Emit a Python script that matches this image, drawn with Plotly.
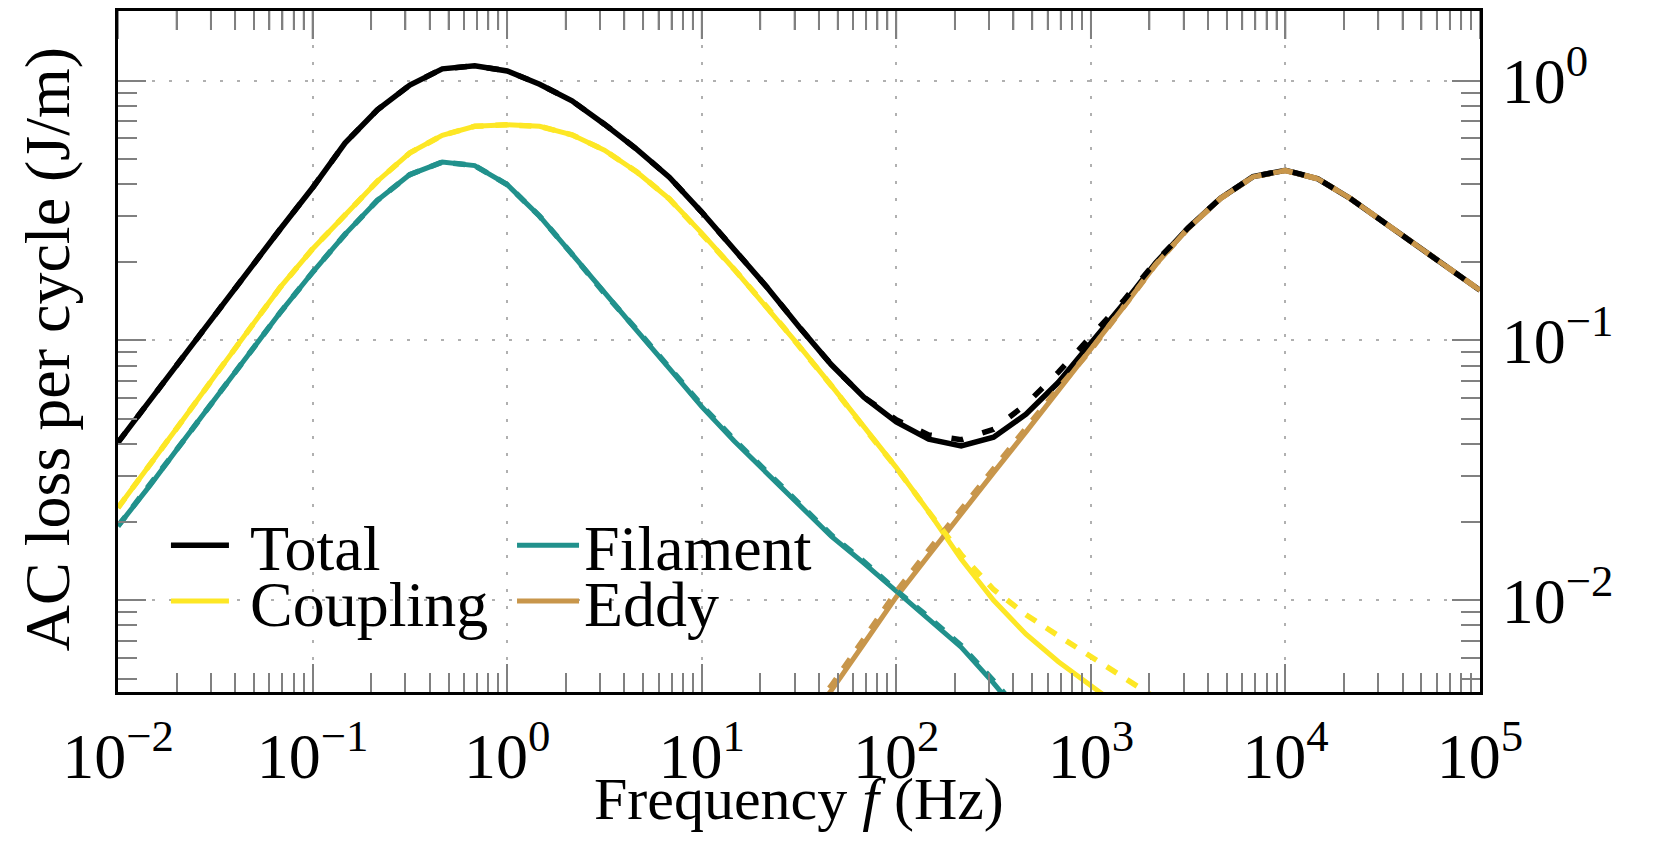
import plotly.graph_objects as go

# frequency grid in Hz (six points per decade)
frequency = [0.01, 0.01468, 0.02154, 0.03162, 0.04642, 0.06813,
             0.1, 0.1468, 0.2154, 0.3162, 0.4642, 0.6813,
             1.0, 1.468, 2.154, 3.162, 4.642, 6.813,
             10.0, 14.68, 21.54, 31.62, 46.42, 68.13,
             100.0, 146.8, 215.4, 316.2, 464.2, 681.3,
             1000.0, 1468.0, 2154.0, 3162.0, 4642.0, 6813.0,
             10000.0, 14680.0, 21540.0, 31620.0, 46420.0, 68130.0,
             100000.0]

# AC loss per cycle (J/m), solid = model A, dashed = model B
total = [0.0405, 0.0592, 0.0860, 0.1265, 0.1855, 0.268, 0.387, 0.575, 0.772, 0.962, 1.11, 1.14,
         1.09, 0.968, 0.836, 0.68, 0.544, 0.425, 0.312, 0.226, 0.161, 0.113, 0.0806, 0.0605,
         0.0486, 0.0417, 0.0393, 0.0424, 0.052, 0.069, 0.097, 0.138, 0.199, 0.271, 0.353, 0.427,
         0.452, 0.419, 0.352, 0.287, 0.234, 0.191, 0.156]
total_dashed = [0.0405, 0.0592, 0.0860, 0.1265, 0.1855, 0.268, 0.387, 0.575, 0.772, 0.962, 1.11, 1.14,
                1.09, 0.968, 0.836, 0.68, 0.544, 0.425, 0.312, 0.226, 0.161, 0.113, 0.0806, 0.0605,
                0.0495, 0.0433, 0.0415, 0.0455, 0.0568, 0.0755, 0.104, 0.142, 0.201, 0.271, 0.353, 0.427,
                0.452, 0.419, 0.352, 0.287, 0.234, 0.191, 0.156]

coupling = [0.0227, 0.0332, 0.0494, 0.0734, 0.109, 0.160, 0.225, 0.306, 0.410, 0.527, 0.616, 0.667,
            0.676, 0.667, 0.619, 0.54, 0.445, 0.351, 0.259, 0.188, 0.135, 0.0955, 0.067, 0.0462,
            0.0324, 0.0219, 0.0144, 0.0100, 0.0074, 0.0058, 0.0047, 0.0038, None, None, None, None,
            None, None, None, None, None, None, None]
coupling_dashed = [0.0227, 0.0332, 0.0494, 0.0734, 0.109, 0.160, 0.225, 0.306, 0.410, 0.527, 0.616, 0.667,
                   0.676, 0.667, 0.619, 0.54, 0.445, 0.351, 0.259, 0.188, 0.135, 0.0955, 0.067, 0.0462,
                   0.0324, 0.0219, 0.0150, 0.0110, 0.0088, 0.0073, 0.0061, 0.0051, 0.0042, 0.0035, None, None,
                   None, None, None, None, None, None, None]

filament = [0.0193, 0.0278, 0.0408, 0.0598, 0.0876, 0.128, 0.183, 0.256, 0.346, 0.435, 0.486, 0.471,
            0.398, 0.301, 0.215, 0.152, 0.109, 0.078, 0.0556, 0.041, 0.0308, 0.0231, 0.0176, 0.0139,
            0.0108, 0.0085, 0.0066, 0.0048, 0.0034, None, None, None, None, None, None, None,
            None, None, None, None, None, None, None]
filament_dashed = [0.0193, 0.0278, 0.0408, 0.0598, 0.0876, 0.128, 0.183, 0.256, 0.346, 0.435, 0.486, 0.471,
                   0.398, 0.301, 0.215, 0.152, 0.110, 0.079, 0.0563, 0.0415, 0.0312, 0.0234, 0.0178, 0.0141,
                   0.0109, 0.0086, 0.0067, 0.0049, 0.0035, None, None, None, None, None, None, None,
                   None, None, None, None, None, None, None]

eddy = [None, None, None, None, None, None, None, None, None, None, None, None,
        None, None, None, None, None, None, None, None, None, 0.0031, 0.0045, 0.0068,
        0.0103, 0.0149, 0.0216, 0.0310, 0.0445, 0.064, 0.092, 0.134, 0.196, 0.270, 0.352, 0.426,
        0.451, 0.419, 0.352, 0.287, 0.234, 0.191, 0.156]
eddy_dashed = [None, None, None, None, None, None, None, None, None, None, None, None,
               None, None, None, None, None, None, None, None, None, 0.0033, 0.0047, 0.0071,
               0.0108, 0.0156, 0.0225, 0.0322, 0.0460, 0.0655, 0.092, 0.134, 0.196, 0.270, 0.352, 0.426,
               0.451, 0.419, 0.352, 0.287, 0.234, 0.191, 0.156]

# axis ticks
x_tickvals = [1e-2, 1e-1, 1e0, 1e1, 1e2, 1e3, 1e4, 1e5]
x_ticktext = ["10<sup>−2</sup>", "10<sup>−1</sup>", "10<sup>0</sup>", "10<sup>1</sup>",
              "10<sup>2</sup>", "10<sup>3</sup>", "10<sup>4</sup>", "10<sup>5</sup>"]
y_tickvals = [1e-2, 1e-1, 1e0]
y_ticktext = ["10<sup>−2</sup>", "10<sup>−1</sup>", "10<sup>0</sup>"]
minor_steps = [2, 3, 4, 5, 6, 7, 8, 9]

FONT = "Liberation Serif, Times New Roman, serif"
BLACK = "#000000"
YELLOW = "#fde725"
TAN = "#c8964b"
TEAL = "#21918c"
TICK = "#808080"

fig = go.Figure()

# (name, values, colour, width, legend, legend item width)
# left column labels start with a non-breaking space to widen the gap after the line
solid_series = [
    ("\u00a0Total", total, BLACK, 5.5, "legend", 58),
    ("\u00a0Coupling", coupling, YELLOW, 5, "legend3", 58),
    ("Filament", filament, TEAL, 5, "legend2", 62),
    ("Eddy", eddy, TAN, 5, "legend4", 62),
]
for name, vals, color, width, leg, _ in solid_series:
    fig.add_trace(go.Scatter(
        x=frequency, y=vals, mode="lines", name=name,
        line=dict(color=color, width=width),
        legend=leg, connectgaps=False,
    ))

dashed_series = [
    ("Eddy (dashed)", eddy_dashed, TAN, "12px,12px"),
    ("Filament (dashed)", filament_dashed, TEAL, "12px,12px"),
    ("Coupling (dashed)", coupling_dashed, YELLOW, "12px,12px"),
    ("Total (dashed)", total_dashed, BLACK, "12px,20px"),
]
for name, vals, color, dash in dashed_series:
    fig.add_trace(go.Scatter(
        x=frequency, y=vals, mode="lines", name=name,
        line=dict(color=color, width=5.5, dash=dash),
        showlegend=False,
    ))

axis_common = dict(
    type="log", automargin=False,
    ticks="inside", ticklen=28, tickwidth=1.8, tickcolor=TICK,
    minor=dict(dtick="D1", ticks="inside", ticklen=19, tickwidth=1.8,
               tickcolor=TICK, showgrid=False),
    showline=True, linecolor=BLACK, linewidth=3, mirror="allticks",
    showgrid=True, gridcolor="#b0b0b0", gridwidth=2, griddash="3px,14px",
    zeroline=False, ticklabelstandoff=6,
    tickfont=dict(family=FONT, size=64, color=BLACK),
)

fig.update_xaxes(**axis_common, range=[-2, 5],
                 tickmode="array", tickvals=x_tickvals, ticktext=x_ticktext)
fig.update_yaxes(**axis_common, range=[-2.353, 0.268], side="right",
                 tickmode="array", tickvals=y_tickvals, ticktext=y_ticktext)

# tick marks hanging from the top frame (plot height is 681 px)
plot_h = 848 - 3 - 164
for v in x_tickvals:
    fig.add_shape(type="line", xref="x", yref="paper", x0=v, x1=v,
                  y0=1, y1=1 - 28 / plot_h, line=dict(color=TICK, width=1.8))
    if v < x_tickvals[-1]:
        for m in minor_steps:
            fig.add_shape(type="line", xref="x", yref="paper", x0=v * m, x1=v * m,
                          y0=1, y1=1 - 19 / plot_h, line=dict(color=TICK, width=1.8))

# axis titles (y title on the left while tick labels sit on the right)
fig.add_annotation(
    text="AC loss per cycle (J/m)", textangle=-90,
    xref="paper", yref="paper", x=-0.0516, y=0.503,
    xanchor="center", yanchor="middle", showarrow=False,
    font=dict(family=FONT, size=64, color=BLACK),
)
fig.add_annotation(
    text="Frequency <i>f</i> (Hz)",
    xref="paper", yref="paper", x=0.5, y=-0.157,
    xanchor="center", yanchor="middle", showarrow=False,
    font=dict(family=FONT, size=60, color=BLACK),
)

leg_common = dict(bgcolor="rgba(0,0,0,0)", borderwidth=0, yanchor="middle", xanchor="left",
                  font=dict(family=FONT, size=64, color=BLACK))
iw = {leg: w for _, _, _, _, leg, w in solid_series}
fig.update_layout(
    width=1653, height=848,
    margin=dict(l=110, r=181, t=3, b=164, autoexpand=False),
    plot_bgcolor="white", paper_bgcolor="white",
    font=dict(family=FONT, color=BLACK),
    legend=dict(x=0.0352, y=0.215, itemwidth=iw["legend"], **leg_common),
    legend2=dict(x=0.2893, y=0.215, itemwidth=iw["legend2"], **leg_common),
    legend3=dict(x=0.0352, y=0.133, itemwidth=iw["legend3"], **leg_common),
    legend4=dict(x=0.2893, y=0.133, itemwidth=iw["legend4"], **leg_common),
)

fig.write_html("out.html")
